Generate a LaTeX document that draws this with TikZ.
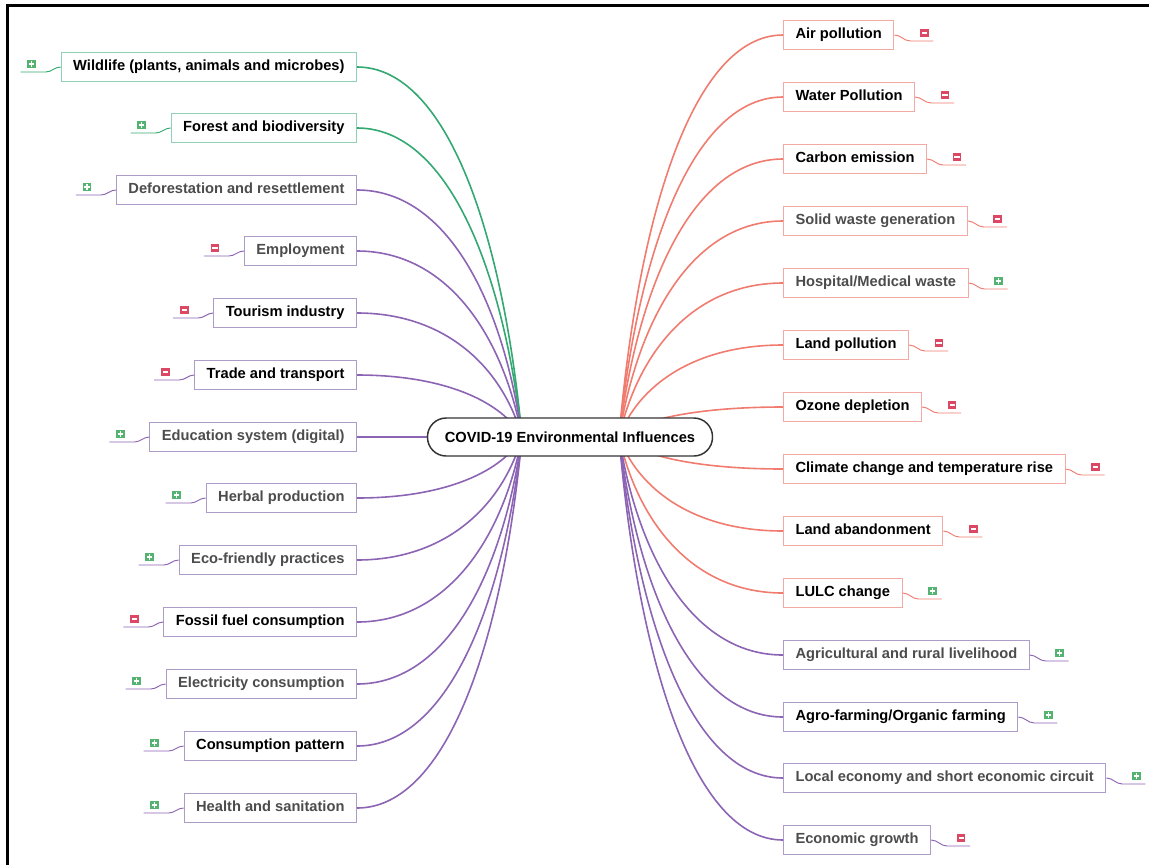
\documentclass[tikz,border=0pt]{standalone}
\usepackage{fontspec}
\setmainfont{Liberation Sans}
\usetikzlibrary{calc}

\definecolor{cgreen}{HTML}{33A872}
\definecolor{cpurple}{HTML}{8C64B4}
\definecolor{cred}{HTML}{F07B6F}
\definecolor{bgreen}{HTML}{8FD1B5}
\definecolor{bpurple}{HTML}{AE9CC8}
\definecolor{bred}{HTML}{F2ABA4}
\definecolor{mgreen}{HTML}{55B372}
\definecolor{mred}{HTML}{DC4863}

\tikzset{
  leaf/.style={draw=#1, fill=white, line width=0.8pt,
    font=\fontsize{11}{13}\selectfont\bfseries,
    inner xsep=9pt, minimum height=21.75pt, text height=8pt, text depth=2.4pt},
  soft/.style={text=black!70},
  hub/.style={draw=black!80, fill=white, line width=1.1pt, rounded corners=14pt,
    minimum width=213.75pt, minimum height=28.5pt,
    font=\fontsize{11}{13}\selectfont\bfseries},
  branch/.style={draw=#1, line width=1.2pt},
  tail/.style={draw=#1, line width=0.7pt},
  plusbox/.style={fill=mgreen, minimum size=6.5pt, inner sep=0pt,
    path picture={\draw[white, line width=0.9pt]
      ($(path picture bounding box.center)+(-2.6,0)$) -- ++(5.2,0)
      ($(path picture bounding box.center)+(0,-2.6)$) -- ++(0,5.2);}},
  minusbox/.style={fill=mred, minimum size=6.5pt, inner sep=0pt,
    path picture={\draw[white, line width=0.9pt]
      ($(path picture bounding box.center)+(-2.6,0)$) -- ++(5.2,0);}}
}

\begin{document}
\begin{tikzpicture}[x=0.75pt, y=-0.75pt]
\useasboundingbox (0,0) rectangle (1149,865);
\draw[line width=2.25pt] (7,865) -- (7,5) -- (1149,5);

\coordinate (hl) at (522,437);
\coordinate (hr) at (619,437);

% left side
\node[leaf=bgreen, anchor=east] (l1) at (357,67) {Wildlife (plants, animals and microbes)};
\node[leaf=bgreen, anchor=east] (l2) at (357,128) {Forest and biodiversity};
\node[leaf=bpurple, soft, anchor=east] (l3) at (357,190) {Deforestation and resettlement};
\node[leaf=bpurple, soft, anchor=east] (l4) at (357,251) {Employment};
\node[leaf=bpurple, anchor=east] (l5) at (357,313) {Tourism industry};
\node[leaf=bpurple, anchor=east] (l6) at (357,375) {Trade and transport};
\node[leaf=bpurple, soft, anchor=east] (l7) at (357,437) {Education system (digital)};
\node[leaf=bpurple, soft, anchor=east] (l8) at (357,498) {Herbal production};
\node[leaf=bpurple, soft, anchor=east] (l9) at (357,560) {Eco-friendly practices};
\node[leaf=bpurple, anchor=east] (l10) at (357,622) {Fossil fuel consumption};
\node[leaf=bpurple, soft, anchor=east] (l11) at (357,684) {Electricity consumption};
\node[leaf=bpurple, anchor=east] (l12) at (357,746) {Consumption pattern};
\node[leaf=bpurple, soft, anchor=east] (l13) at (357,808) {Health and sanitation};

% right side
\node[leaf=bred, anchor=west] (r1) at (783,35) {Air pollution};
\node[leaf=bred, anchor=west] (r2) at (783,97) {Water Pollution};
\node[leaf=bred, anchor=west] (r3) at (783,159) {Carbon emission};
\node[leaf=bred, soft, anchor=west] (r4) at (783,221) {Solid waste generation};
\node[leaf=bred, soft, anchor=west] (r5) at (783,283) {Hospital/Medical waste};
\node[leaf=bred, anchor=west] (r6) at (783,345) {Land pollution};
\node[leaf=bred, anchor=west] (r7) at (783,407) {Ozone depletion};
\node[leaf=bred, anchor=west] (r8) at (783,469) {Climate change and temperature rise};
\node[leaf=bred, anchor=west] (r9) at (783,531) {Land abandonment};
\node[leaf=bred, anchor=west] (r10) at (783,593) {LULC change};
\node[leaf=bpurple, soft, anchor=west] (r11) at (783,655) {Agricultural and rural livelihood};
\node[leaf=bpurple, anchor=west] (r12) at (783,717) {Agro-farming/Organic farming};
\node[leaf=bpurple, soft, anchor=west] (r13) at (783,778) {Local economy and short economic circuit};
\node[leaf=bpurple, soft, anchor=west] (r14) at (783,840) {Economic growth};

% branches
\foreach \n/\y/\c in {l1/67/cgreen, l2/128/cgreen, l3/190/cpurple, l4/251/cpurple,
    l5/313/cpurple, l6/375/cpurple, l7/437/cpurple, l8/498/cpurple, l9/560/cpurple,
    l10/622/cpurple, l11/684/cpurple, l12/746/cpurple, l13/808/cpurple} {
  \pgfmathsetmacro\k{437+(\y-437)*0.55}
  \draw[branch=\c] (\n.east) .. controls +(90,0) and (503,\k) .. (hl);
}
\foreach \n/\y/\c in {r1/35/cred, r2/97/cred, r3/159/cred, r4/221/cred, r5/283/cred,
    r6/345/cred, r7/407/cred, r8/469/cred, r9/531/cred, r10/593/cred,
    r11/655/cpurple, r12/717/cpurple, r13/778/cpurple, r14/840/cpurple} {
  \pgfmathsetmacro\k{437+(\y-437)*0.55}
  \draw[branch=\c] (\n.west) .. controls +(-90,0) and (638,\k) .. (hr);
}

% markers
\foreach \n/\c/\s in {l1/cgreen/plusbox, l2/cgreen/plusbox, l3/cpurple/plusbox,
    l4/cpurple/minusbox, l5/cpurple/minusbox, l6/cpurple/minusbox, l7/cpurple/plusbox,
    l8/cpurple/plusbox, l9/cpurple/plusbox, l10/cpurple/minusbox, l11/cpurple/plusbox,
    l12/cpurple/plusbox, l13/cpurple/plusbox} {
  \draw[tail=\c] (\n.west) to[out=180, in=0] ++(-15,5) -- ++(-25,0);
  \node[\s] (m\n) at ($(\n.west)+(-29,-3)$) {};
}
\foreach \n/\c/\s in {r1/cred/minusbox, r2/cred/minusbox, r3/cred/minusbox,
    r4/cred/minusbox, r5/cred/plusbox, r6/cred/minusbox, r7/cred/minusbox,
    r8/cred/minusbox, r9/cred/minusbox, r10/cred/plusbox, r11/cpurple/plusbox,
    r12/cpurple/plusbox, r13/cpurple/plusbox, r14/cpurple/minusbox} {
  \draw[tail=\c] (\n.east) to[out=0, in=180] ++(16,6) -- ++(23,0);
  \node[\s] (m\n) at ($(\n.east)+(30,-2)$) {};
}

\node[hub] (c) at (570,437) {COVID-19 Environmental Influences};
\end{tikzpicture}
\end{document}
